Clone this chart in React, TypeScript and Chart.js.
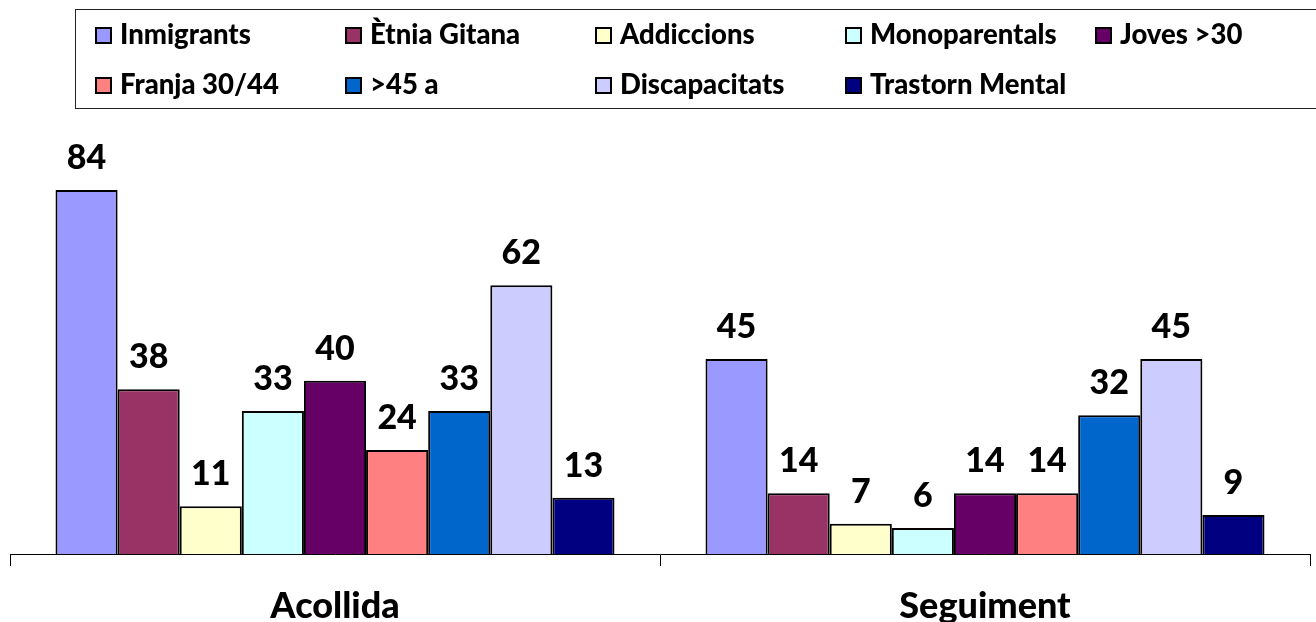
import React, { useEffect, useRef } from "react";
import { Chart, registerables } from "chart.js";

Chart.register(...registerables);

const categories = ["Acollida", "Seguiment"];
const seriesNames = [
  "Inmigrants",
  "Ètnia Gitana",
  "Addiccions",
  "Monoparentals",
  "Joves >30",
  "Franja 30/44",
  ">45 a",
  "Discapacitats",
  "Trastorn Mental",
];
const seriesColors = [
  "#9999FF",
  "#993366",
  "#FFFFCC",
  "#CCFFFF",
  "#660066",
  "#FF8080",
  "#0066CC",
  "#CCCCFF",
  "#000080",
];
const acollida = [84, 38, 11, 33, 40, 24, 33, 62, 13];
const seguiment = [45, 14, 7, 6, 14, 14, 32, 45, 9];

const FONT = "Lato, 'Open Sans', sans-serif";

const valueLabels = {
  id: "valueLabels",
  afterDatasetsDraw(chart: any) {
    const ctx = chart.ctx;
    ctx.save();
    ctx.font = `900 34px ${FONT}`;
    ctx.fillStyle = "#000";
    ctx.textAlign = "center";
    ctx.textBaseline = "alphabetic";
    chart.data.datasets.forEach((ds: any, i: number) => {
      const meta = chart.getDatasetMeta(i);
      meta.data.forEach((bar: any, j: number) => {
        ctx.fillText(String(ds.data[j]), bar.x, bar.y - 21);
      });
    });
    ctx.restore();
  },
};

const boxLegend = {
  id: "boxLegend",
  afterDraw(chart: any) {
    const ctx = chart.ctx;
    ctx.save();
    ctx.strokeStyle = "#222";
    ctx.lineWidth = 1;
    ctx.strokeRect(75.5, 9.5, 1260, 99);
    ctx.font = `900 27.5px ${FONT}`;
    ctx.textAlign = "left";
    ctx.textBaseline = "middle";
    chart.data.datasets.forEach((ds: any, i: number) => {
      const col = i % 5;
      const row = Math.floor(i / 5);
      const x = 96 + col * 250;
      const cy = 35 + row * 50;
      ctx.fillStyle = ds.backgroundColor;
      ctx.fillRect(x, cy - 7, 15, 15);
      ctx.strokeStyle = "#000";
      ctx.lineWidth = 2;
      ctx.strokeRect(x, cy - 7, 15, 15);
      ctx.fillStyle = "#000";
      ctx.fillText(ds.label, x + 24, cy);
    });
    ctx.restore();
  },
};

export default function App() {
  const ref = useRef<HTMLCanvasElement>(null);
  useEffect(() => {
    if (!ref.current) return;
    const chart = new Chart(ref.current, {
      type: "bar",
      data: {
        labels: categories,
        datasets: seriesNames.map((name, i) => ({
          label: name,
          data: [acollida[i], seguiment[i]],
          backgroundColor: seriesColors[i],
          borderColor: "#000",
          borderWidth: 2,
          barPercentage: 1,
          categoryPercentage: 0.86,
        })),
      },
      options: {
        animation: false,
        responsive: false,
        layout: { padding: { top: 120.7, left: 10, right: 6, bottom: -24 } },
        plugins: {
          legend: { display: false },
          tooltip: { enabled: false },
        },
        scales: {
          y: { display: false, min: 0, max: 100 },
          x: {
            border: { display: true, color: "#000", width: 1 },
            grid: {
              drawOnChartArea: false,
              drawTicks: true,
              tickLength: 12,
              color: "#000",
            },
            ticks: {
              color: "#000",
              padding: 18.4,
              font: { family: FONT, size: 36, weight: "900" },
            },
          },
        },
      },
      plugins: [valueLabels, boxLegend],
    });
    return () => chart.destroy();
  }, []);
  return (
    <div style={{ position: "fixed", left: 0, top: 0, width: 1316, height: 622, background: "#fff" }}>
      <canvas ref={ref} width={1316} height={622} style={{ display: "block" }} />
    </div>
  );
}
